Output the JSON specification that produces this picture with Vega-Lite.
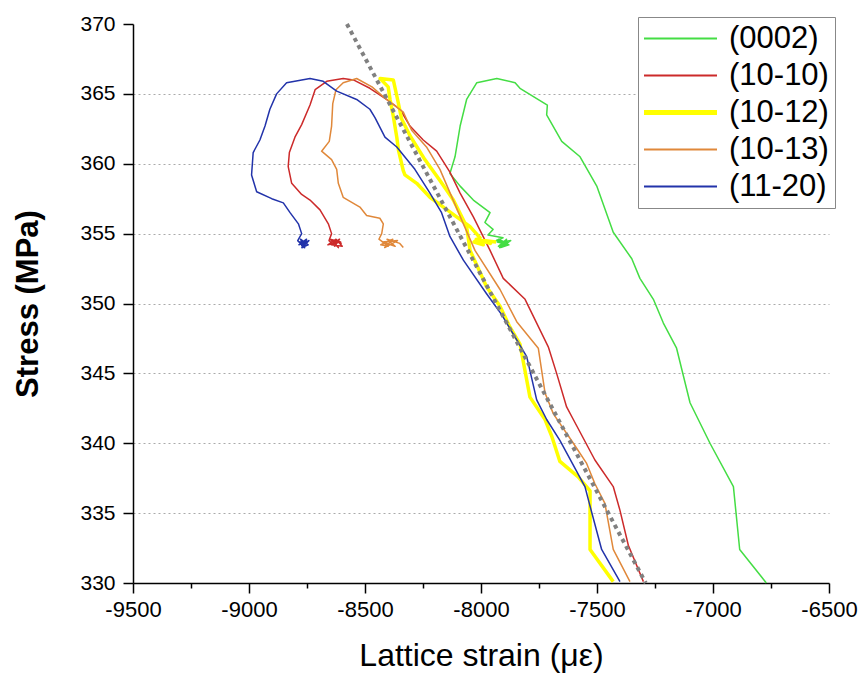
{
  "$schema": "https://vega.github.io/schema/vega-lite/v6.json",
  "width": 696,
  "height": 559,
  "autosize": {"type": "none"},
  "padding": {"left": 133, "top": 24, "right": 35, "bottom": 104},
  "background": "white",
  "config": {
    "view": {"stroke": null},
    "font": "Liberation Sans"
  },
  "datasets": {
    "curves": [
      {"s":"(0002)","i":0,"x":-6770,"y":330.0},{"s":"(0002)","i":1,"x":-6885,"y":332.4},{"s":"(0002)","i":2,"x":-6912,"y":336.9},{"s":"(0002)","i":3,"x":-7013,"y":340.0},{"s":"(0002)","i":4,"x":-7099,"y":342.9},{"s":"(0002)","i":5,"x":-7157,"y":346.8},{"s":"(0002)","i":6,"x":-7214,"y":348.6},{"s":"(0002)","i":7,"x":-7257,"y":350.3},{"s":"(0002)","i":8,"x":-7315,"y":351.8},{"s":"(0002)","i":9,"x":-7350,"y":353.2},{"s":"(0002)","i":10,"x":-7430,"y":355.1},{"s":"(0002)","i":11,"x":-7501,"y":358.4},{"s":"(0002)","i":12,"x":-7573,"y":360.5},{"s":"(0002)","i":13,"x":-7652,"y":361.6},{"s":"(0002)","i":14,"x":-7717,"y":363.5},{"s":"(0002)","i":15,"x":-7714,"y":364.2},{"s":"(0002)","i":16,"x":-7832,"y":365.4},{"s":"(0002)","i":17,"x":-7853,"y":365.8},{"s":"(0002)","i":18,"x":-7932,"y":366.1},{"s":"(0002)","i":19,"x":-8018,"y":365.8},{"s":"(0002)","i":20,"x":-8062,"y":364.6},{"s":"(0002)","i":21,"x":-8090,"y":362.7},{"s":"(0002)","i":22,"x":-8112,"y":360.5},{"s":"(0002)","i":23,"x":-8134,"y":359.3},{"s":"(0002)","i":24,"x":-8090,"y":358.4},{"s":"(0002)","i":25,"x":-8033,"y":357.4},{"s":"(0002)","i":26,"x":-7961,"y":356.5},{"s":"(0002)","i":27,"x":-7983,"y":355.8},{"s":"(0002)","i":28,"x":-7948,"y":355.3},{"s":"(0002)","i":29,"x":-7970,"y":354.9},{"s":"(0002)","i":30,"x":-7905,"y":354.7},{"s":"(0002)","i":31,"x":-7935,"y":354.5},{"s":"(0002)","i":32,"x":-7880,"y":354.4},{"s":"(0002)","i":33,"x":-7925,"y":354.1},{"s":"(0002)","i":34,"x":-7890,"y":354.6},{"s":"(0002)","i":35,"x":-7915,"y":354.0},{"s":"(0002)","i":36,"x":-7880,"y":354.2},{"s":"(0002)","i":37,"x":-7930,"y":354.4},{"s":"(0002)","i":38,"x":-7872,"y":354.5},{"s":"(0002)","i":39,"x":-7920,"y":354.0},{"s":"(0002)","i":40,"x":-7885,"y":354.3},{"s":"(0002)","i":41,"x":-7925,"y":354.6},{"s":"(0002)","i":42,"x":-7895,"y":354.1},
      {"s":"(10-10)","i":0,"x":-7300,"y":330.1},{"s":"(10-10)","i":1,"x":-7365,"y":332.7},{"s":"(10-10)","i":2,"x":-7401,"y":335.2},{"s":"(10-10)","i":3,"x":-7430,"y":336.9},{"s":"(10-10)","i":4,"x":-7509,"y":338.8},{"s":"(10-10)","i":5,"x":-7602,"y":341.7},{"s":"(10-10)","i":6,"x":-7631,"y":342.6},{"s":"(10-10)","i":7,"x":-7674,"y":345.0},{"s":"(10-10)","i":8,"x":-7710,"y":346.9},{"s":"(10-10)","i":9,"x":-7810,"y":350.3},{"s":"(10-10)","i":10,"x":-7904,"y":351.8},{"s":"(10-10)","i":11,"x":-7961,"y":353.8},{"s":"(10-10)","i":12,"x":-8033,"y":356.2},{"s":"(10-10)","i":13,"x":-8090,"y":357.9},{"s":"(10-10)","i":14,"x":-8134,"y":359.4},{"s":"(10-10)","i":15,"x":-8191,"y":360.9},{"s":"(10-10)","i":16,"x":-8249,"y":361.7},{"s":"(10-10)","i":17,"x":-8306,"y":362.7},{"s":"(10-10)","i":18,"x":-8349,"y":363.9},{"s":"(10-10)","i":19,"x":-8407,"y":364.6},{"s":"(10-10)","i":20,"x":-8479,"y":365.4},{"s":"(10-10)","i":21,"x":-8550,"y":366.0},{"s":"(10-10)","i":22,"x":-8594,"y":366.1},{"s":"(10-10)","i":23,"x":-8665,"y":365.9},{"s":"(10-10)","i":24,"x":-8715,"y":365.3},{"s":"(10-10)","i":25,"x":-8737,"y":364.2},{"s":"(10-10)","i":26,"x":-8773,"y":362.8},{"s":"(10-10)","i":27,"x":-8802,"y":361.9},{"s":"(10-10)","i":28,"x":-8826,"y":360.8},{"s":"(10-10)","i":29,"x":-8831,"y":359.8},{"s":"(10-10)","i":30,"x":-8816,"y":358.6},{"s":"(10-10)","i":31,"x":-8773,"y":357.8},{"s":"(10-10)","i":32,"x":-8737,"y":357.4},{"s":"(10-10)","i":33,"x":-8694,"y":356.7},{"s":"(10-10)","i":34,"x":-8658,"y":355.7},{"s":"(10-10)","i":35,"x":-8644,"y":355.0},{"s":"(10-10)","i":36,"x":-8655,"y":354.5},{"s":"(10-10)","i":37,"x":-8630,"y":354.1},{"s":"(10-10)","i":38,"x":-8610,"y":354.6},{"s":"(10-10)","i":39,"x":-8645,"y":354.2},{"s":"(10-10)","i":40,"x":-8598,"y":354.1},{"s":"(10-10)","i":41,"x":-8625,"y":354.6},{"s":"(10-10)","i":42,"x":-8660,"y":354.2},{"s":"(10-10)","i":43,"x":-8605,"y":354.4},{"s":"(10-10)","i":44,"x":-8650,"y":354.6},{"s":"(10-10)","i":45,"x":-8615,"y":354.0},{"s":"(10-10)","i":46,"x":-8640,"y":354.5},{"s":"(10-10)","i":47,"x":-8600,"y":354.3},
      {"s":"(10-12)","i":0,"x":-7430,"y":330.1},{"s":"(10-12)","i":1,"x":-7530,"y":332.4},{"s":"(10-12)","i":2,"x":-7530,"y":335.0},{"s":"(10-12)","i":3,"x":-7530,"y":336.6},{"s":"(10-12)","i":4,"x":-7581,"y":337.6},{"s":"(10-12)","i":5,"x":-7660,"y":338.7},{"s":"(10-12)","i":6,"x":-7695,"y":340.5},{"s":"(10-12)","i":7,"x":-7724,"y":341.7},{"s":"(10-12)","i":8,"x":-7789,"y":343.3},{"s":"(10-12)","i":9,"x":-7832,"y":347.1},{"s":"(10-12)","i":10,"x":-7875,"y":348.3},{"s":"(10-12)","i":11,"x":-7918,"y":349.8},{"s":"(10-12)","i":12,"x":-7976,"y":351.2},{"s":"(10-12)","i":13,"x":-8047,"y":353.8},{"s":"(10-12)","i":14,"x":-8062,"y":355.5},{"s":"(10-12)","i":15,"x":-8119,"y":357.4},{"s":"(10-12)","i":16,"x":-8177,"y":358.8},{"s":"(10-12)","i":17,"x":-8242,"y":360.3},{"s":"(10-12)","i":18,"x":-8306,"y":362.0},{"s":"(10-12)","i":19,"x":-8342,"y":363.2},{"s":"(10-12)","i":20,"x":-8357,"y":364.4},{"s":"(10-12)","i":21,"x":-8378,"y":366.0},{"s":"(10-12)","i":22,"x":-8435,"y":366.1},{"s":"(10-12)","i":23,"x":-8400,"y":365.5},{"s":"(10-12)","i":24,"x":-8392,"y":364.6},{"s":"(10-12)","i":25,"x":-8378,"y":363.4},{"s":"(10-12)","i":26,"x":-8363,"y":361.9},{"s":"(10-12)","i":27,"x":-8356,"y":361.0},{"s":"(10-12)","i":28,"x":-8335,"y":359.5},{"s":"(10-12)","i":29,"x":-8328,"y":359.2},{"s":"(10-12)","i":30,"x":-8277,"y":358.6},{"s":"(10-12)","i":31,"x":-8220,"y":357.6},{"s":"(10-12)","i":32,"x":-8162,"y":356.9},{"s":"(10-12)","i":33,"x":-8105,"y":356.2},{"s":"(10-12)","i":34,"x":-8047,"y":355.5},{"s":"(10-12)","i":35,"x":-8004,"y":354.7},{"s":"(10-12)","i":36,"x":-8030,"y":354.4},{"s":"(10-12)","i":37,"x":-7990,"y":354.2},{"s":"(10-12)","i":38,"x":-8020,"y":354.6},{"s":"(10-12)","i":39,"x":-7960,"y":354.3},{"s":"(10-12)","i":40,"x":-7990,"y":354.5},{"s":"(10-12)","i":41,"x":-7935,"y":354.4},
      {"s":"(10-13)","i":0,"x":-7358,"y":330.1},{"s":"(10-13)","i":1,"x":-7430,"y":332.4},{"s":"(10-13)","i":2,"x":-7466,"y":335.7},{"s":"(10-13)","i":3,"x":-7509,"y":337.1},{"s":"(10-13)","i":4,"x":-7546,"y":338.6},{"s":"(10-13)","i":5,"x":-7602,"y":340.0},{"s":"(10-13)","i":6,"x":-7688,"y":342.1},{"s":"(10-13)","i":7,"x":-7724,"y":343.6},{"s":"(10-13)","i":8,"x":-7753,"y":346.8},{"s":"(10-13)","i":9,"x":-7846,"y":348.7},{"s":"(10-13)","i":10,"x":-7918,"y":351.0},{"s":"(10-13)","i":11,"x":-8026,"y":353.8},{"s":"(10-13)","i":12,"x":-8076,"y":355.7},{"s":"(10-13)","i":13,"x":-8120,"y":357.4},{"s":"(10-13)","i":14,"x":-8177,"y":359.6},{"s":"(10-13)","i":15,"x":-8235,"y":361.2},{"s":"(10-13)","i":16,"x":-8299,"y":362.4},{"s":"(10-13)","i":17,"x":-8335,"y":363.7},{"s":"(10-13)","i":18,"x":-8414,"y":364.7},{"s":"(10-13)","i":19,"x":-8470,"y":365.5},{"s":"(10-13)","i":20,"x":-8536,"y":366.1},{"s":"(10-13)","i":21,"x":-8594,"y":365.8},{"s":"(10-13)","i":22,"x":-8625,"y":365.3},{"s":"(10-13)","i":23,"x":-8639,"y":364.3},{"s":"(10-13)","i":24,"x":-8644,"y":362.7},{"s":"(10-13)","i":25,"x":-8654,"y":361.6},{"s":"(10-13)","i":26,"x":-8687,"y":360.9},{"s":"(10-13)","i":27,"x":-8644,"y":360.3},{"s":"(10-13)","i":28,"x":-8622,"y":359.6},{"s":"(10-13)","i":29,"x":-8615,"y":358.6},{"s":"(10-13)","i":30,"x":-8594,"y":357.6},{"s":"(10-13)","i":31,"x":-8522,"y":356.9},{"s":"(10-13)","i":32,"x":-8493,"y":356.3},{"s":"(10-13)","i":33,"x":-8436,"y":356.1},{"s":"(10-13)","i":34,"x":-8421,"y":355.7},{"s":"(10-13)","i":35,"x":-8428,"y":355.0},{"s":"(10-13)","i":36,"x":-8440,"y":354.6},{"s":"(10-13)","i":37,"x":-8400,"y":354.1},{"s":"(10-13)","i":38,"x":-8432,"y":354.2},{"s":"(10-13)","i":39,"x":-8380,"y":354.6},{"s":"(10-13)","i":40,"x":-8415,"y":354.0},{"s":"(10-13)","i":41,"x":-8360,"y":354.5},{"s":"(10-13)","i":42,"x":-8425,"y":354.4},{"s":"(10-13)","i":43,"x":-8370,"y":354.1},{"s":"(10-13)","i":44,"x":-8405,"y":354.6},{"s":"(10-13)","i":45,"x":-8350,"y":354.3},{"s":"(10-13)","i":46,"x":-8335,"y":354.0},
      {"s":"(11-20)","i":0,"x":-7401,"y":330.1},{"s":"(11-20)","i":1,"x":-7480,"y":332.4},{"s":"(11-20)","i":2,"x":-7530,"y":335.5},{"s":"(11-20)","i":3,"x":-7552,"y":336.9},{"s":"(11-20)","i":4,"x":-7660,"y":340.2},{"s":"(11-20)","i":5,"x":-7717,"y":341.7},{"s":"(11-20)","i":6,"x":-7760,"y":343.1},{"s":"(11-20)","i":7,"x":-7803,"y":346.2},{"s":"(11-20)","i":8,"x":-7911,"y":349.2},{"s":"(11-20)","i":9,"x":-7976,"y":350.7},{"s":"(11-20)","i":10,"x":-8076,"y":353.1},{"s":"(11-20)","i":11,"x":-8134,"y":354.8},{"s":"(11-20)","i":12,"x":-8170,"y":356.5},{"s":"(11-20)","i":13,"x":-8220,"y":357.9},{"s":"(11-20)","i":14,"x":-8285,"y":359.6},{"s":"(11-20)","i":15,"x":-8363,"y":361.2},{"s":"(11-20)","i":16,"x":-8414,"y":361.9},{"s":"(11-20)","i":17,"x":-8457,"y":363.3},{"s":"(11-20)","i":18,"x":-8479,"y":363.9},{"s":"(11-20)","i":19,"x":-8536,"y":364.6},{"s":"(11-20)","i":20,"x":-8622,"y":365.2},{"s":"(11-20)","i":21,"x":-8680,"y":365.9},{"s":"(11-20)","i":22,"x":-8737,"y":366.1},{"s":"(11-20)","i":23,"x":-8838,"y":365.8},{"s":"(11-20)","i":24,"x":-8881,"y":365.0},{"s":"(11-20)","i":25,"x":-8910,"y":363.9},{"s":"(11-20)","i":26,"x":-8931,"y":362.7},{"s":"(11-20)","i":27,"x":-8953,"y":361.7},{"s":"(11-20)","i":28,"x":-8982,"y":360.8},{"s":"(11-20)","i":29,"x":-8989,"y":359.2},{"s":"(11-20)","i":30,"x":-8967,"y":358.0},{"s":"(11-20)","i":31,"x":-8902,"y":357.5},{"s":"(11-20)","i":32,"x":-8852,"y":357.2},{"s":"(11-20)","i":33,"x":-8823,"y":356.5},{"s":"(11-20)","i":34,"x":-8787,"y":355.7},{"s":"(11-20)","i":35,"x":-8773,"y":355.0},{"s":"(11-20)","i":36,"x":-8790,"y":354.5},{"s":"(11-20)","i":37,"x":-8760,"y":354.0},{"s":"(11-20)","i":38,"x":-8778,"y":354.6},{"s":"(11-20)","i":39,"x":-8745,"y":354.2},{"s":"(11-20)","i":40,"x":-8772,"y":354.0},{"s":"(11-20)","i":41,"x":-8742,"y":354.5},{"s":"(11-20)","i":42,"x":-8785,"y":354.2},{"s":"(11-20)","i":43,"x":-8752,"y":354.6},{"s":"(11-20)","i":44,"x":-8768,"y":354.0},{"s":"(11-20)","i":45,"x":-8780,"y":354.4},{"s":"(11-20)","i":46,"x":-8748,"y":354.3}
    ],
    "fit": [
      {"x": -8578, "y": 370},
      {"x": -7290, "y": 330}
    ]
  },
  "layer": [
    {
      "data": {"name": "curves"},
      "mark": {"type": "line", "strokeJoin": "round"},
      "encoding": {
        "x": {
          "field": "x", "type": "quantitative",
          "scale": {"domain": [-9500, -6500], "nice": false, "zero": false},
          "axis": {
            "values": [-9500,-9250,-9000,-8750,-8500,-8250,-8000,-7750,-7500,-7250,-7000,-6750,-6500],
            "labelExpr": "datum.value % 500 === 0 ? '' + datum.value : ''",
            "labelFlush": false, "labelOverlap": false,
            "grid": false,
            "domainColor": "black", "domainWidth": 1.5,
            "tickColor": "black", "tickWidth": 1.5,
            "tickSize": {"condition": {"test": "datum.value % 500 === 0", "value": 10}, "value": 5},
            "labelFontSize": 22, "labelColor": "black", "labelPadding": 6,
            "labelFont": "Liberation Sans",
            "title": "Lattice strain (με)",
            "titleFont": "Liberation Sans", "titleFontSize": 32, "titleFontWeight": "normal",
            "titleColor": "black", "titlePadding": 20
          }
        },
        "y": {
          "field": "y", "type": "quantitative",
          "scale": {"domain": [330, 370], "nice": false, "zero": false},
          "axis": {
            "values": [330,335,340,345,350,355,360,365,370],
            "labelFlush": false, "labelOverlap": false,
            "grid": true,
            "gridColor": "#aaaaaa", "gridDash": [2, 3], "gridWidth": 1,
            "gridOpacity": {"condition": {"test": "datum.value > 330 && datum.value < 370", "value": 1}, "value": 0},
            "domainColor": "black", "domainWidth": 1.5,
            "tickColor": "black", "tickWidth": 1.5, "tickSize": 10,
            "labelFontSize": 21, "labelColor": "black", "labelPadding": 8,
            "labelFont": "Liberation Sans",
            "title": "Stress (MPa)",
            "titleFont": "Liberation Sans", "titleFontSize": 31, "titleFontWeight": "bold",
            "titleColor": "black", "titlePadding": 35
          }
        },
        "color": {
          "field": "s", "type": "nominal",
          "scale": {
            "domain": ["(0002)", "(10-10)", "(10-12)", "(10-13)", "(11-20)"],
            "range": ["#44dd44", "#cc2a2a", "#ffff00", "#e0883a", "#2233aa"]
          },
          "legend": {
            "orient": "none", "legendX": 505, "legendY": -7,
            "title": null,
            "symbolType": "stroke", "symbolSize": 5329, "symbolStrokeWidth": 2,
            "symbolOffset": 21,
            "labelFontSize": 31, "labelFont": "Liberation Sans", "labelColor": "black",
            "labelOffset": 33, "rowPadding": 5,
            "strokeColor": "#888888", "fillColor": "white", "padding": 6,
            "labelLimit": 300,
            "encode": {"symbols": {"update": {"strokeWidth": {"signal": "datum.value === '(10-12)' ? 5 : 2"}}}}
          }
        },
        "strokeWidth": {"condition": {"test": "datum.s === '(10-12)'", "value": 3.5}, "value": 1.5},
        "order": {"field": "i", "type": "quantitative"}
      }
    },
    {
      "data": {"name": "fit"},
      "mark": {"type": "line", "color": "#808080", "strokeWidth": 4, "strokeDash": [4, 4], "strokeCap": "butt"},
      "encoding": {
        "x": {"field": "x", "type": "quantitative"},
        "y": {"field": "y", "type": "quantitative"}
      }
    }
  ]
}
